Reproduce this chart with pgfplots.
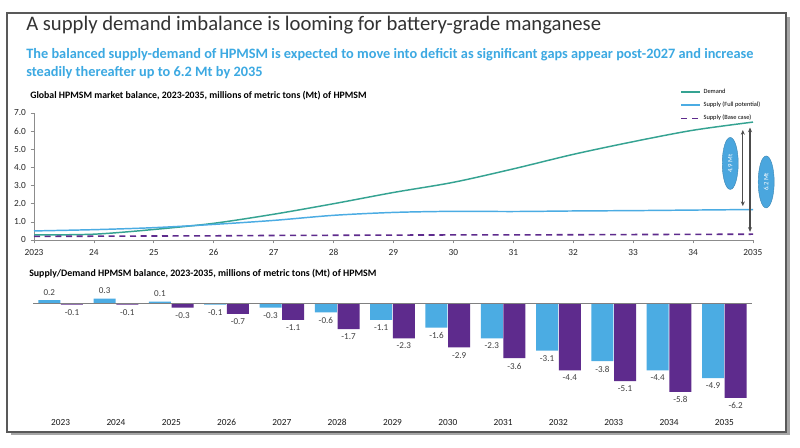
\documentclass[border=0pt]{standalone}
\usepackage{fontspec}
\setmainfont{Carlito}
\usepackage{pgfplots}
\pgfplotsset{compat=1.18}
\usetikzlibrary{arrows.meta,shapes.geometric}
\definecolor{demand}{HTML}{35A392}
\definecolor{full}{HTML}{4BACE3}
\definecolor{base}{HTML}{5E2B8D}
\definecolor{subblue}{HTML}{3CA9E2}
\definecolor{oval}{HTML}{4AA6DE}
\begin{document}
\begin{tikzpicture}
\begin{scope}[x=0.75pt,y=0.75pt]
\useasboundingbox (0,0) rectangle (800,447);
% frame
\fill[black!35] (11,12) rectangle (790,430);
\fill[white,draw=black!65,line width=2.2pt] (7,15) rectangle (786,434);
% titles
\node[anchor=base west,inner sep=0,font=\fontsize{15.5}{18}\selectfont,text=black!80] at (26,447-31) {A supply demand imbalance is looming for battery-grade manganese};
\node[anchor=base west,inner sep=0,font=\fontsize{10.75}{12}\bfseries\selectfont,text=subblue] at (26,447-59) {The balanced supply-demand of HPMSM is expected to move into deficit as significant gaps appear post-2027 and increase};
\node[anchor=base west,inner sep=0,font=\fontsize{10.75}{12}\bfseries\selectfont,text=subblue] at (26,447-77) {steadily thereafter up to 6.2 Mt by 2035};
\node[anchor=base west,inner sep=0,font=\fontsize{7.35}{8}\bfseries\selectfont,text=black] at (30,447-98.5) {Global HPMSM market balance, 2023-2035, millions of metric tons (Mt) of HPMSM};
\node[anchor=base west,inner sep=0,font=\fontsize{7.4}{8}\bfseries\selectfont,text=black] at (29,447-276.5) {Supply/Demand HPMSM balance, 2023-2035, millions of metric tons (Mt) of HPMSM};
\end{scope}

% top line chart
\begin{axis}[at={(25.5pt,155.25pt)},anchor=south west,scale only axis,
  width=539.25pt,height=95.25pt,
  xmin=2023,xmax=2035,ymin=0,ymax=7,
  axis lines*=left,
  axis line style={black!45,line width=0.6pt},
  xtick={2023,...,2035},
  xticklabels={2023,24,25,26,27,28,29,30,31,32,33,34,2035},
  ytick={0,1,...,7},
  yticklabels={0,1.0,2.0,3.0,4.0,5.0,6.0,7.0},
  tick align=outside,major tick length=2.5pt,
  tick style={black!45,line width=0.5pt},
  tick label style={font=\fontsize{7}{8}\selectfont,text=black!85},
  /pgf/number format/assume math mode=true,
  xticklabel style={yshift=-1pt},
  clip=false,
  legend style={at={(0.899,1.215)},anchor=north west,draw=none,fill=none,
    font=\fontsize{4.8}{5.5}\selectfont,row sep=1.0pt,inner sep=0pt,
    legend cell align=left},
  legend image code/.code={\draw[#1] (0pt,0pt) -- (14pt,0pt);},
]
\addplot[demand,line width=1.1pt,smooth] coordinates {
(2023,0.28)(2024,0.32)(2025,0.58)(2026,0.92)(2027,1.42)(2028,2.0)(2029,2.62)
(2030,3.18)(2031,3.92)(2032,4.72)(2033,5.42)(2034,6.05)(2035,6.5)};
\addlegendentry{Demand}
\addplot[full,line width=1.1pt,smooth] coordinates {
(2023,0.5)(2024,0.57)(2025,0.68)(2026,0.86)(2027,1.08)(2028,1.36)(2029,1.52)
(2030,1.58)(2031,1.57)(2032,1.6)(2033,1.62)(2034,1.65)(2035,1.68)};
\addlegendentry{Supply (Full potential)}
\addplot[base,line width=1.2pt,dash pattern=on 4.5pt off 3.5pt] coordinates {
(2023,0.2)(2024,0.21)(2025,0.22)(2026,0.23)(2027,0.25)(2028,0.26)(2029,0.27)
(2030,0.28)(2031,0.28)(2032,0.29)(2033,0.3)(2034,0.31)(2035,0.32)};
\addlegendentry{Supply (Base case)}
\draw[black!70,line width=0.8pt,{Stealth[length=3.5pt,width=3pt]}-{Stealth[length=3.5pt,width=3pt]}] (axis cs:2034.83,6.06) -- (axis cs:2034.83,1.87);
\draw[black!70,line width=0.8pt,{Stealth[length=3.5pt,width=3pt]}-{Stealth[length=3.5pt,width=3pt]}] (axis cs:2034.95,6.2) -- (axis cs:2034.95,0.45);
\node[ellipse,fill=oval,draw=oval!80!black,line width=0.3pt,minimum width=12pt,minimum height=39pt,inner sep=0pt] at (axis cs:2034.62,4.22) {};
\node[rotate=90,text=white,font=\fontsize{5}{6}\selectfont] at (axis cs:2034.62,4.22) {4.9 Mt};
\node[ellipse,fill=oval,draw=oval!80!black,line width=0.3pt,minimum width=12pt,minimum height=39pt,inner sep=0pt] at (axis cs:2035.22,3.2) {};
\node[rotate=90,text=white,font=\fontsize{5}{6}\selectfont] at (axis cs:2035.22,3.2) {6.2 Mt};
\end{axis}

% bottom bar chart
\begin{axis}[at={(24.75pt,33.375pt)},anchor=south west,scale only axis,
  width=539.25pt,height=80.25pt,
  xmin=-0.5,xmax=12.5,ymin=-6.5,ymax=0.5,
  ybar=0.5pt,bar width=16.5pt,
  hide y axis,
  axis x line*=bottom,
  x axis line style={draw=none},
  xtick={0,...,12},
  xticklabels={2023,2024,2025,2026,2027,2028,2029,2030,2031,2032,2033,2034,2035},
  major tick length=0pt,
  xticklabel style={font=\fontsize{7}{8}\selectfont,text=black!90,yshift=-9pt},
  clip=false,
  nodes near coords,
  nodes near coords style={font=\fontsize{6.8}{8}\selectfont,text=black!75,
    /pgf/number format/.cd,fixed,fixed zerofill,precision=1,assume math mode=true},
]
\addplot[fill=full,draw=none] coordinates {
(0,0.2)(1,0.3)(2,0.1)(3,-0.1)(4,-0.3)(5,-0.6)(6,-1.1)(7,-1.6)(8,-2.3)(9,-3.1)(10,-3.8)(11,-4.4)(12,-4.9)};
\addplot[fill=base,draw=none] coordinates {
(0,-0.1)(1,-0.1)(2,-0.3)(3,-0.7)(4,-1.1)(5,-1.7)(6,-2.3)(7,-2.9)(8,-3.6)(9,-4.4)(10,-5.1)(11,-5.8)(12,-6.2)};
\draw[black!50,line width=0.6pt] (axis cs:-0.5,0) -- (axis cs:12.5,0);
\end{axis}
\end{tikzpicture}
\end{document}
